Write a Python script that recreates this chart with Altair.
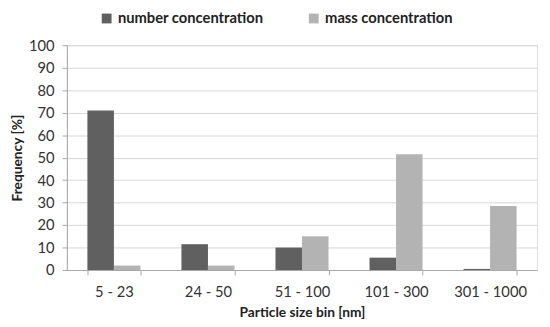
import altair as alt
import pandas as pd

categories = ["5 - 23", "24 - 50", "51 - 100", "101 - 300", "301 - 1000"]
number_conc = [71, 11.5, 10, 5.5, 0.5]
mass_conc = [2, 2, 15, 51.5, 28.5]
series = ["number concentration", "mass concentration"]

rows = []
for c, n, m in zip(categories, number_conc, mass_conc):
    rows.append({"bin": c, "series": series[0], "value": n})
    rows.append({"bin": c, "series": series[1], "value": m})
df = pd.DataFrame(rows)

font = "Lato"

chart = alt.Chart(df).mark_bar().encode(
    x=alt.X("bin:N", sort=categories,
            scale=alt.Scale(paddingInner=0.436, paddingOuter=0.218),
            axis=alt.Axis(title="Particle size bin [nm]", labelAngle=0, tickBand="extent",
                          domainColor="#a6a6a6", tickColor="#a6a6a6", tickSize=5,
                          labelFontSize=15, labelColor="#333333", labelPadding=10,
                          titleFontSize=14, titleFontWeight="bold", titleColor="#222222",
                          titlePadding=6, labelFont=font, titleFont=font)),
    xOffset=alt.XOffset("series:N", sort=series),
    y=alt.Y("value:Q", scale=alt.Scale(domain=[0, 100]),
            axis=alt.Axis(title="Frequency [%]", values=list(range(0, 101, 10)),
                          grid=True, gridColor="#d6d6d6", domainColor="#a6a6a6",
                          tickColor="#a6a6a6", tickSize=5, labelFontSize=15,
                          labelColor="#333333", labelPadding=8,
                          titleFontSize=14, titleFontWeight="bold", titleColor="#222222",
                          titlePadding=4, labelFont=font, titleFont=font)),
    color=alt.Color("series:N", sort=series,
                    scale=alt.Scale(domain=series, range=["#606060", "#b3b3b3"]),
                    legend=alt.Legend(title=None, orient="none", direction="horizontal",
                                      legendX=33, legendY=-35,
                                      symbolType="square", symbolSize=100,
                                      symbolStrokeWidth=0, labelOffset=4,
                                      labelFontSize=15, labelFontWeight="bold",
                                      labelColor="#222222", labelFont=font,
                                      labelLimit=300, columnPadding=43)),
).properties(
    width=479, height=229,
    padding={"left": 2, "top": 0, "right": 5, "bottom": 0},
).configure_view(stroke=None).configure(background="white")

chart.save("out.html", embed_options={"renderer": "svg", "actions": False})
